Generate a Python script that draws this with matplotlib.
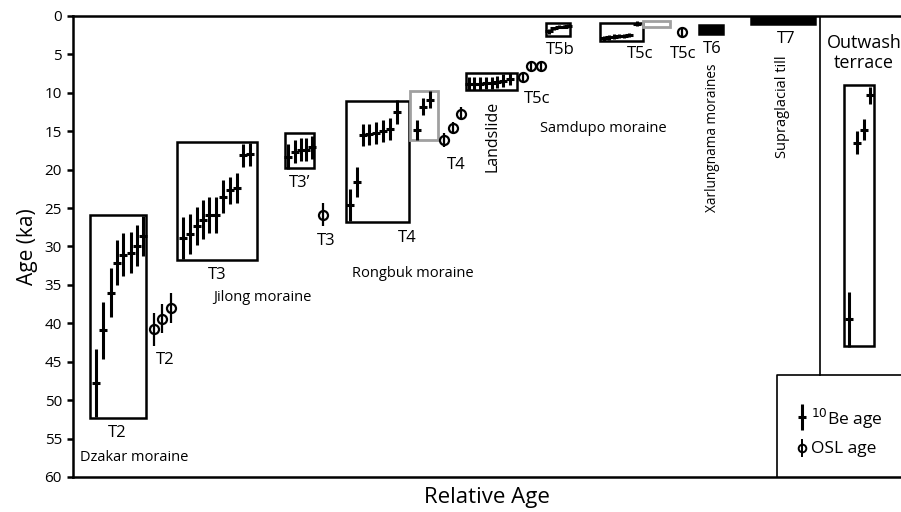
"""Cosmogenic 10Be and OSL ages for moraines and terraces, ordered by relative age."""

import matplotlib
matplotlib.use("Agg")
import matplotlib.pyplot as plt
from matplotlib.patches import Rectangle

plt.rcParams["font.family"] = ["Open Sans", "DejaVu Sans"]

# x = relative position along the sequence (arbitrary units), age in ka, err = 1 sigma
be_x = [96, 103, 111, 117, 123, 131, 137, 143,                      # T2 Dzakar
        183, 190, 197, 203, 209, 216, 223, 230, 237, 243, 250,      # T3 Jilong
        288, 295, 301, 306, 312,                                    # T3'
        350, 357, 363, 369, 376, 383, 390, 397,                     # T4 Rongbuk
        417, 423, 430,                                              # T4 (grey box)
        469, 474, 480, 486, 492, 497, 503, 510,                     # Landslide
        549, 554, 559, 564, 568,                                    # T5b
        604, 609, 614, 619, 624, 629, 637,                          # T5c
        849, 857, 864, 870]                                         # outwash terrace
be_age = [47.8, 40.9, 36.0, 32.1, 31.1, 30.8, 29.9, 28.6,
          28.9, 28.4, 27.3, 26.5, 25.9, 25.9, 23.5, 22.7, 22.4, 18.1, 18.0,
          18.3, 17.7, 17.4, 17.4, 17.1,
          24.6, 21.6, 15.5, 15.4, 15.2, 15.0, 14.7, 12.5,
          14.8, 11.8, 10.9,
          8.8, 8.8, 8.8, 8.7, 8.7, 8.6, 8.4, 8.2,
          2.0, 1.6, 1.4, 1.4, 1.3,
          2.9, 2.8, 2.7, 2.6, 2.6, 2.5, 1.0,
          39.5, 16.5, 14.8, 10.3]
be_err = [4.4, 3.7, 3.2, 2.9, 2.8, 2.7, 2.7, 2.6,
          2.7, 2.6, 2.5, 2.5, 2.4, 2.4, 2.2, 1.8, 2.0, 1.5, 1.5,
          1.6, 1.5, 1.5, 1.5, 1.5,
          2.1, 2.0, 1.4, 1.4, 1.4, 1.4, 1.4, 1.6,
          1.3, 1.1, 1.1,
          0.8, 0.8, 0.8, 0.8, 0.8, 0.8, 0.8, 0.8,
          0.3, 0.2, 0.2, 0.2, 0.2,
          0.3, 0.3, 0.3, 0.3, 0.3, 0.3, 0.3,
          3.6, 1.5, 1.4, 1.1]

osl_x = [154, 162, 171, 323, 444, 453, 461, 523, 531, 541, 682]
osl_age = [40.8, 39.4, 38.0, 25.9, 16.1, 14.6, 12.7, 8.0, 6.5, 6.5, 2.1]
osl_err = [2.2, 1.9, 2.0, 1.5, 0.9, 0.8, 0.9, 0.4, 0.5, 0.5, 0.5]

# grouping boxes: left, right, young age, old age
box_left = [90, 177, 285, 346, 466, 546, 600, 699, 751, 844]
box_right = [146, 257, 314, 409, 517, 570, 643, 723, 815, 874]
box_top = [25.9, 16.4, 15.2, 11.1, 7.4, 0.9, 0.9, 1.2, 0.0, 9.0]
box_bottom = [52.3, 31.8, 19.8, 26.8, 9.6, 2.6, 3.2, 2.3, 1.0, 43.0]
box_fill = ["none"] * 7 + ["black", "black", "none"]
grey_left = [410, 643]
grey_right = [438, 670]
grey_top = [9.8, 0.7]
grey_bottom = [16.1, 1.5]

# text labels: (text, x, age, size, rotation)
labels = [
    ("T2", 117, 54.3, 12, 0), ("Dzakar moraine", 134, 57.5, 10.5, 0),
    ("T2", 165, 44.8, 12, 0), ("T3", 217, 33.7, 12, 0),
    ("Jilong moraine", 262, 36.7, 10.5, 0), ("T3\u2019", 300, 21.7, 12, 0),
    ("T3", 326, 29.3, 12, 0), ("T4", 407, 28.9, 12, 0),
    ("Rongbuk moraine", 413, 33.5, 10.5, 0), ("T4", 456, 19.4, 12, 0),
    ("Landslide", 493, 15.7, 11.5, 90), ("T5c", 537, 10.8, 12, 0),
    ("Samdupo moraine", 603, 14.6, 10.5, 0), ("T5b", 560, 4.4, 12, 0),
    ("T5c", 640, 5.0, 12, 0), ("T5c", 683, 5.0, 12, 0),
    ("T6", 712, 4.3, 12, 0), ("T7", 786, 3.0, 12, 0),
    ("Xarlungnama moraines", 713, 15.8, 9.8, 90),
    ("Supraglacial till", 783, 11.8, 10.5, 90),
    ("Outwash\nterrace", 864, 4.8, 13, 0),
]

fig = plt.figure(figsize=(9.01, 5.12), dpi=100)
ax = fig.add_axes([0.081, 0.0684, 0.919, 0.9004])

ax.errorbar(be_x, be_age, yerr=be_err, fmt="_", color="black", ms=6, mew=2.2,
            elinewidth=2.2, capsize=0, zorder=4)
ax.errorbar(osl_x, osl_age, yerr=osl_err, fmt="o", color="black", ms=6.5,
            mfc="white", mew=1.6, elinewidth=1.6, capsize=0, zorder=4)
ax.plot(osl_x, osl_age, ls="none", marker="|", ms=6.5, mew=1.6, color="black",
        zorder=5)

for l, r, t, b, fc in zip(box_left, box_right, box_top, box_bottom, box_fill):
    ax.add_patch(Rectangle((l, t), r - l, b - t, fill=fc != "none",
                           facecolor=fc, edgecolor="black", lw=1.8, zorder=3))
for l, r, t, b in zip(grey_left, grey_right, grey_top, grey_bottom):
    ax.add_patch(Rectangle((l, t), r - l, b - t, facecolor="none",
                           edgecolor="#a0a0a0", lw=2, zorder=3))

for text, x, y, size, rot in labels:
    ax.text(x, y, text, ha="center", va="center", fontsize=size, rotation=rot,
            linespacing=1.1)

# divider for the outwash terrace and the key box
ax.plot([820, 820], [0, 46.7], color="black", lw=1.2)
ax.plot([777, 777, 901], [60, 46.7, 46.7], color="black", lw=1.2)
ax.errorbar([802], [52.2], yerr=[1.7], fmt="_", color="black", ms=6, mew=2.2,
            elinewidth=2.2, capsize=0)
ax.errorbar([802], [56.2], yerr=[1.2], fmt="o", color="black", ms=5.5,
            mfc="none", mew=1.4, elinewidth=1.4, capsize=0)
ax.text(811, 52.4, "$^{10}$Be age", fontsize=12.5, va="center")
ax.text(811, 56.4, "OSL age", fontsize=12.5, va="center")

ax.set_xlim(73, 901)
ax.set_ylim(60, 0)
ax.set_yticks(range(0, 61, 5))
ax.set_xticks([])
ax.tick_params(axis="y", direction="out", length=4, width=1.8, labelsize=11,
               pad=4)
for side in ["left", "top", "bottom"]:
    ax.spines[side].set_linewidth(1.8)
ax.spines["right"].set_visible(False)
ax.set_ylabel("Age (ka)", fontsize=15, labelpad=5)
ax.set_xlabel("Relative Age", fontsize=16, labelpad=7)

fig.savefig("out.png", dpi=100)
